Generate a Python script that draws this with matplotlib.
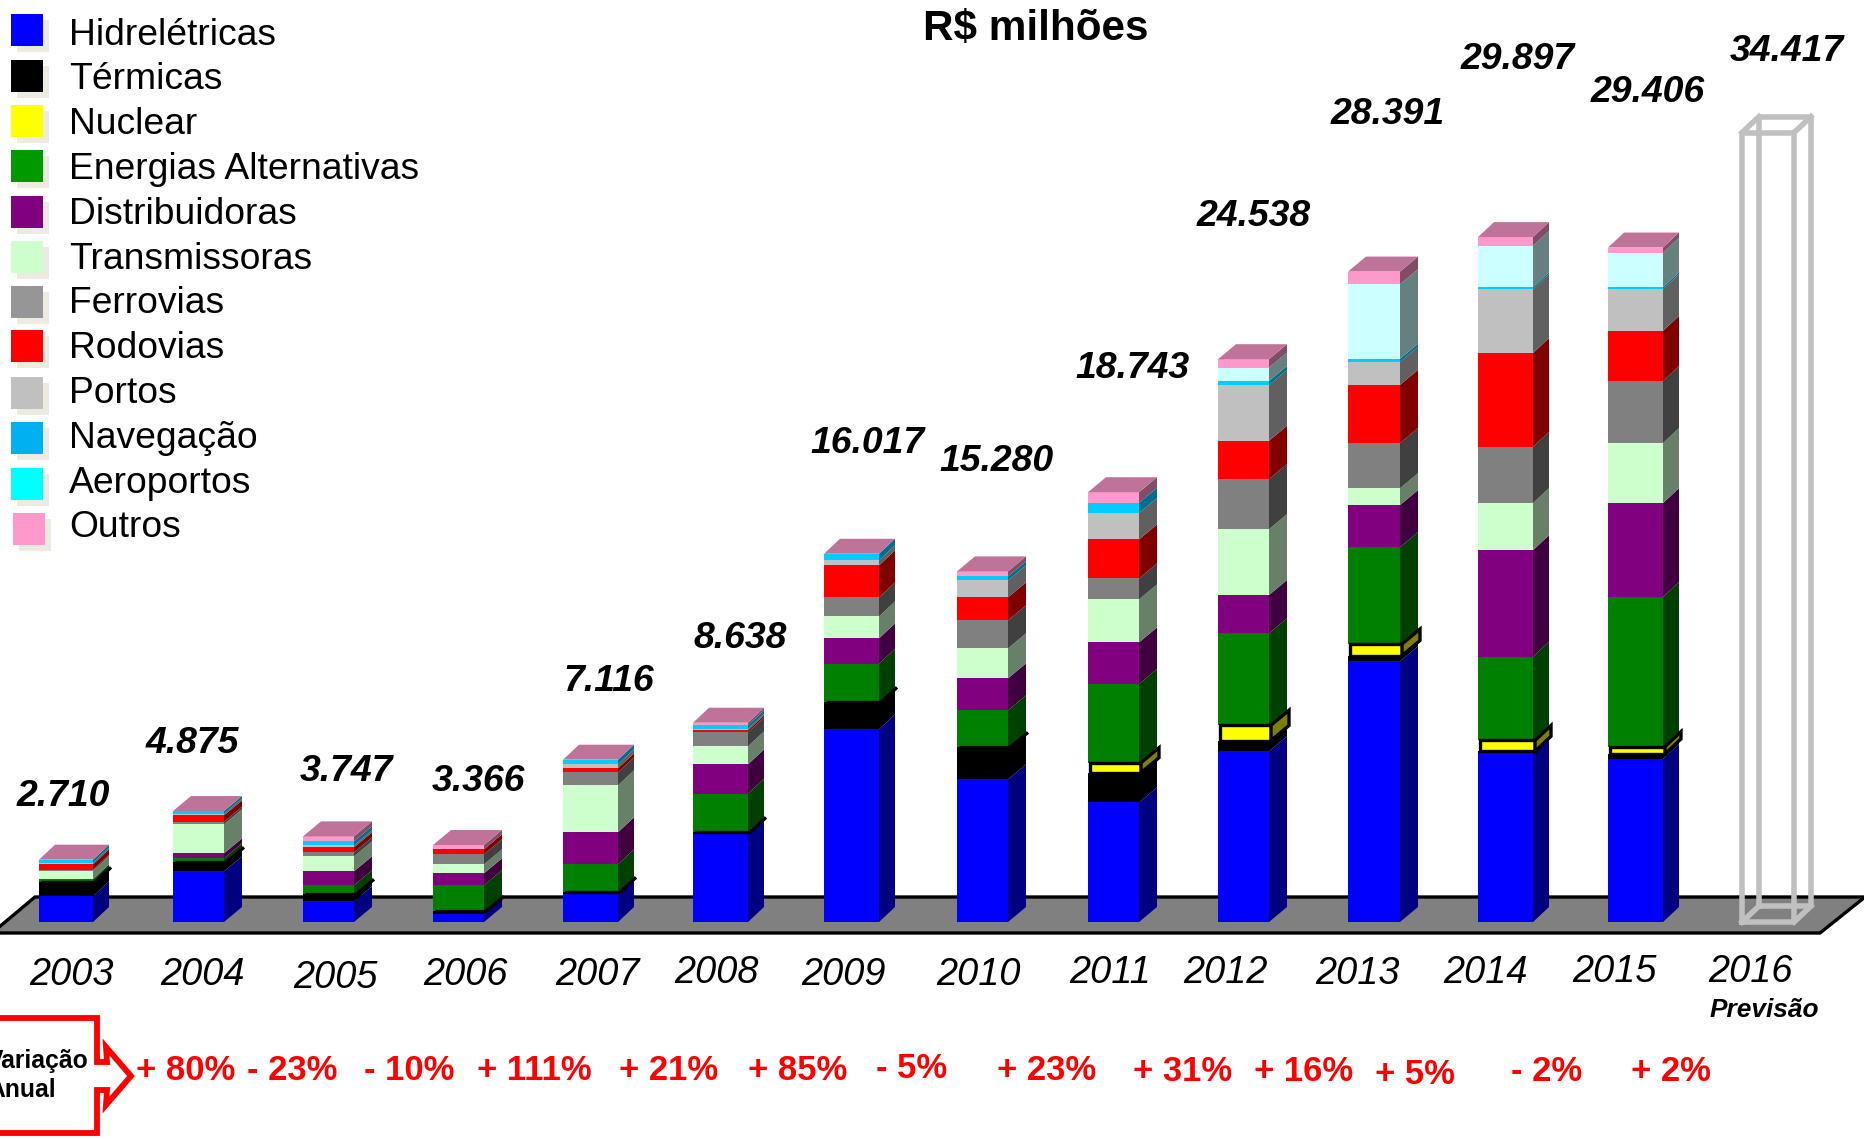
#!/usr/bin/env python3

import matplotlib
matplotlib.use("Agg")
import matplotlib.pyplot as plt
from matplotlib.patches import Polygon, Rectangle

# R$ milhoes per year
years = ["2003", "2004", "2005", "2006", "2007", "2008", "2009", "2010",
         "2011", "2012", "2013", "2014", "2015"]
hidro = [1119, 2209, 901, 349, 1221, 3850, 8398, 6219, 5216, 7445, 11368, 7395, 7112]
termicas = [610, 392, 305, 116, 73, 58, 1177, 1395, 1293, 468, 250, 50, 217]
nuclear = [0, 0, 0, 0, 0, 0, 0, 0, 436, 667, 501, 470, 317]
alternativas = [131, 174, 392, 1133, 1221, 1685, 1685, 1613, 3429, 4006, 4222, 3655, 6525]
distribuidoras = [0, 218, 610, 523, 1395, 1279, 1104, 1395, 1816, 1669, 1836, 4640, 4090]
transmissoras = [363, 1264, 654, 392, 2049, 785, 959, 1308, 1874, 2871, 735, 2053, 2620]
ferrovias = [58, 116, 174, 436, 567, 610, 828, 1221, 915, 2186, 1969, 2453, 2704]
rodovias = [232, 276, 218, 218, 174, 87, 1395, 1003, 1700, 1669, 2537, 4089, 2186]
portos = [73, 73, 87, 0, 174, 73, 218, 741, 1150, 2437, 1001, 2787, 1819]
navegacao = [131, 116, 174, 0, 203, 145, 291, 174, 450, 167, 134, 84, 84]
aeroportos = [0, 0, 0, 0, 0, 0, 0, 0, 0, 584, 3254, 1802, 1502]
outros = [0, 0, 218, 189, 0, 116, 0, 218, 460, 369, 551, 384, 230]

totals = [2710, 4875, 3747, 3366, 7116, 8638, 16017, 15280, 18743, 24538, 28391, 29897, 29406]
forecast_year = "2016"
forecast_total = 34417
variation = ["+ 80%", "- 23%", "- 10%", "+ 111%", "+ 21%", "+ 85%", "- 5%", "+ 23%",
             "+ 31%", "+ 16%", "+ 5%", "- 2%", "+ 2%"]
legend_names = ["Hidrelétricas", "Térmicas", "Nuclear", "Energias Alternativas",
                "Distribuidoras", "Transmissoras", "Ferrovias", "Rodovias", "Portos",
                "Navegação", "Aeroportos", "Outros"]

W, H = 1865, 1139
BASE_PX = 922       # pixel row of value 0
PER_PX = 43.6       # R$ milhoes per pixel
SHRINK = 1865 / 1568

series = [hidro, termicas, nuclear, alternativas, distribuidoras, transmissoras,
          ferrovias, rodovias, portos, navegacao, aeroportos, outros]
front = ["#0000FF", "#000000", "#FFFF00", "#008000", "#800080", "#CCFFCC",
         "#808080", "#FF0000", "#C0C0C0", "#00CCFF", "#CCFFFF", "#FF99CC"]
side = ["#000080", "#000000", "#808000", "#004000", "#400040", "#678067",
        "#404040", "#800000", "#606060", "#006F8F", "#668080", "#804C66"]
swatch = ["#0000FF", "#000000", "#FFFF00", "#009900", "#800080", "#CCFFCC",
          "#969696", "#FF0000", "#C0C0C0", "#00B0F0", "#00FFFF", "#FF99CC"]
cap_color = "#BF7399"

bar_left = [39, 173, 303, 433, 563, 693, 824, 957, 1088, 1218, 1348, 1478, 1608]
bar_width = [54, 51, 51, 51, 55, 55, 55, 51, 51, 51, 52, 55, 55]
bar_depth = [16, 18, 18, 18, 16, 16, 16, 18, 18, 18, 18, 16, 16]
DY = 15

font = "Liberation Sans"


def draw_bar(ax, left, width, dx, values):
    dy = DY * PER_PX
    bottom = 0
    for i, val in enumerate(values):
        top = bottom + val
        if i == 2:  # nuclear has an outline and sits slightly proud of the bar
            ax.bar(left + 2, val, width, bottom=bottom, align="edge", color=front[i],
                   edgecolor="black", linewidth=2.4, zorder=4)
            r = left + width + 2
            ax.add_patch(Polygon([(r, bottom), (r + dx, bottom + dy), (r + dx, top + dy), (r, top)],
                                 facecolor=side[i], edgecolor="black", linewidth=2.4, zorder=4))
        elif val > 0:
            ax.bar(left, val, width, bottom=bottom, align="edge", color=front[i],
                   linewidth=0, zorder=3)
            r = left + width
            ax.add_patch(Polygon([(r, bottom), (r + dx, bottom + dy), (r + dx, top + dy), (r, top)],
                                 facecolor=side[i], linewidth=0, zorder=3))
        bottom = top
    ax.add_patch(Polygon([(left, bottom), (left + width, bottom),
                          (left + width + dx, bottom + dy), (left + dx, bottom + dy)],
                         facecolor=cap_color, linewidth=0, zorder=3))


def draw_forecast(ax, total):
    left, width = 1742, 52
    dx, dy = 17, 16 * PER_PX
    style = dict(color="#C0C0C0", linewidth=4.0, solid_joinstyle="round", zorder=3)
    x0, x1 = left, left + width
    ax.plot([x0 + dx, x1 + dx, x1 + dx, x0 + dx, x0 + dx],
            [dy, dy, total + dy, total + dy, dy], **style)
    ax.plot([x0, x1, x1, x0, x0], [0, 0, total, total, 0], **style)
    for x in (x0, x1):
        ax.plot([x, x + dx], [0, dy], **style)
        ax.plot([x, x + dx], [total, total + dy], **style)


def main():
    plt.rcParams["font.family"] = [font, "DejaVu Sans"]
    fig = plt.figure(figsize=(W / 100, H / 100), dpi=100)

    # overlay in picture pixels for the floor, legend and labels
    px = fig.add_axes([0, 0, 1, 1], zorder=1)
    px.set_xlim(0, W)
    px.set_ylim(H, 0)
    px.axis("off")

    # x in pixels, y in R$ milhoes
    ax = fig.add_axes([0, 0, 1, 1], zorder=2)
    ax.set_xlim(0, W)
    ax.set_ylim((BASE_PX - H) * PER_PX, BASE_PX * PER_PX)
    ax.axis("off")

    px.add_patch(Polygon([(-8, 933), (1820, 933), (1865, 897), (35, 897)], closed=True,
                         facecolor="#808080", edgecolor="black", linewidth=2.4))

    for i in range(len(years)):
        draw_bar(ax, bar_left[i], bar_width[i], bar_depth[i], [s[i] for s in series])
    draw_forecast(ax, forecast_total)

    # legend
    tops = [14, 60, 105, 150, 196, 241, 286, 330, 377, 422, 468, 513]
    for i, name in enumerate(legend_names):
        x = 13 if i == 11 else 11
        px.add_patch(Rectangle((x + 6, tops[i] + 6), 32, 32, facecolor="#EDEBE0", linewidth=0))
        px.add_patch(Rectangle((x, tops[i]), 32, 32, facecolor=swatch[i], linewidth=0))
        px.text(69, 44.6 + 44.8 * i, name, fontsize=26.85, va="baseline", ha="left")

    px.text(871 * SHRINK, 24 * SHRINK, "R$ milhões", fontsize=30.4, fontweight="bold",
            ha="center", va="center")

    # totals, year labels and variation, centres measured on the picture
    total_pos = [(53, 670), (162, 625), (291, 649), (402, 657), (512, 573), (622, 537),
                 (729, 373), (838, 388), (952, 310), (1054, 182), (1167, 96), (1276, 50),
                 (1385, 78), (1502, 43)]
    year_pos = [(60, 820), (170, 820), (282, 822), (391, 820), (502, 820), (602, 818),
                (709, 820), (823, 820), (933, 818), (1030, 818), (1141, 819), (1249, 818),
                (1357, 817), (1472, 817)]
    var_pos = [(156, 900), (246, 900), (344, 900), (449, 900), (562, 900), (671, 900),
               (766, 898), (880, 900), (994, 901), (1096, 901), (1190, 903), (1300, 901),
               (1405, 901)]

    for val, (x, y) in zip(totals + [forecast_total], total_pos):
        px.text(x * SHRINK, y * SHRINK, f"{val:,}".replace(",", "."), fontsize=26.9,
                fontweight="bold", fontstyle="italic", ha="center", va="center", zorder=5)
    for year, (x, y) in zip(years + [forecast_year], year_pos):
        px.text(x * SHRINK, y * SHRINK, year, fontsize=27.3, fontstyle="italic",
                ha="center", va="center", zorder=5)
    px.text(1483 * SHRINK, 849.5 * SHRINK, "Previsão", fontsize=18.9, fontweight="bold",
            fontstyle="italic", ha="center", va="center")
    for label, (x, y) in zip(variation, var_pos):
        px.text(x * SHRINK, y * SHRINK, label, fontsize=24.9, fontweight="bold",
                color="#FF0000", ha="center", va="center")

    # callout arrow, runs off the left edge
    px.add_patch(Polygon([(-10, 1018), (97, 1018), (97, 1062), (107, 1062), (106, 1047),
                          (131, 1076), (106, 1105), (107, 1090), (97, 1090), (97, 1133),
                          (-10, 1133)], closed=True, facecolor="white", edgecolor="#FF0000",
                         linewidth=4.2, joinstyle="miter"))
    px.text(-13, 1061, "Variação", fontsize=17.8, fontweight="bold", ha="left", va="center")
    px.text(-13, 1090, "Anual", fontsize=17.8, fontweight="bold", ha="left", va="center")

    fig.savefig("out.png", dpi=100)


if __name__ == "__main__":
    main()
